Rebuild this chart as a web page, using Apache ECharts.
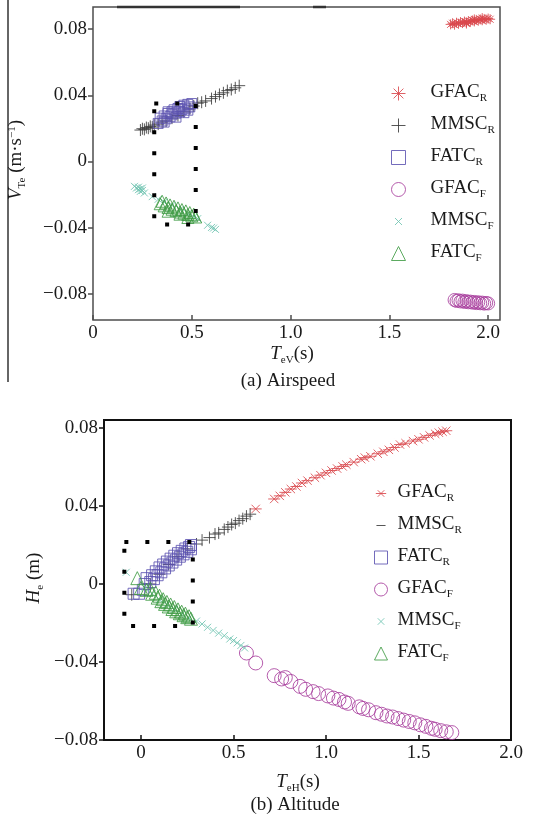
<!DOCTYPE html>
<html>
<head>
<meta charset="utf-8">
<script src="https://cdn.jsdelivr.net/npm/echarts@6/dist/echarts.min.js"></script>
<style>
  html, body { margin: 0; padding: 0; background: #fff; }
  #chart { width: 535px; height: 822px; }
</style>
</head>
<body>
<div id="chart"></div>
<script>
// ---- Series names ----
const seriesNames = ['GFAC_R', 'MMSC_R', 'FATC_R', 'GFAC_F', 'MMSC_F', 'FATC_F'];

// ---- Tick values ----
const xTicks = [0, 0.5, 1.0, 1.5, 2.0];
const yTicks = [-0.08, -0.04, 0, 0.04, 0.08];

// ---- (a) Airspeed: [T_eV (s), V_Te (m/s)] ----
const airGfacR = [[1.81,0.0828],[1.82,0.0835],[1.83,0.0826],[1.84,0.0838],[1.85,0.0832],[1.86,0.0842],[1.87,0.0836],[1.88,0.0845],[1.89,0.0840],[1.90,0.0848],[1.91,0.0843],[1.92,0.0852],[1.93,0.0846],[1.94,0.0855],[1.95,0.0850],[1.96,0.0858],[1.97,0.0853],[1.98,0.0861],[1.99,0.0856],[2.00,0.0863],[2.01,0.0859],[1.93,0.0858],[1.97,0.0866],[1.89,0.0833]];
const airMmscR = [[0.24,0.0190],[0.25,0.0198],[0.26,0.0194],[0.27,0.0205],[0.28,0.0201],[0.29,0.0212],[0.30,0.0208],[0.31,0.0220],[0.33,0.0226],[0.35,0.0238],[0.37,0.0245],[0.40,0.0262],[0.43,0.0278],[0.46,0.0300],[0.49,0.0318],[0.51,0.0335],[0.53,0.0352],[0.55,0.0358],[0.57,0.0366],[0.60,0.0380],[0.62,0.0392],[0.64,0.0405],[0.66,0.0415],[0.68,0.0428],[0.70,0.0435],[0.72,0.0445],[0.74,0.0458]];
const airFatcR = [[0.33,0.0230],[0.34,0.0262],[0.35,0.0245],[0.36,0.0275],[0.37,0.0258],[0.38,0.0290],[0.39,0.0270],[0.40,0.0300],[0.40,0.0282],[0.41,0.0312],[0.42,0.0292],[0.43,0.0320],[0.44,0.0302],[0.44,0.0332],[0.45,0.0315],[0.46,0.0340],[0.47,0.0322],[0.48,0.0345],[0.49,0.0330],[0.50,0.0350],[0.36,0.0238],[0.42,0.0268],[0.46,0.0295],[0.38,0.0300],[0.48,0.0310]];
const airGfacF = [[1.83,-0.0836],[1.84,-0.0842],[1.85,-0.0838],[1.86,-0.0845],[1.87,-0.0840],[1.88,-0.0848],[1.89,-0.0843],[1.90,-0.0850],[1.91,-0.0846],[1.92,-0.0852],[1.93,-0.0848],[1.94,-0.0855],[1.95,-0.0850],[1.96,-0.0856],[1.97,-0.0852],[1.98,-0.0858],[1.99,-0.0854],[2.00,-0.0857]];
const airMmscF = [[0.21,-0.0150],[0.22,-0.0160],[0.23,-0.0155],[0.23,-0.0170],[0.24,-0.0165],[0.24,-0.0180],[0.25,-0.0175],[0.26,-0.0190],[0.25,-0.0160],[0.30,-0.0212],[0.33,-0.0228],[0.36,-0.0245],[0.40,-0.0265],[0.44,-0.0290],[0.48,-0.0315],[0.51,-0.0335],[0.53,-0.0345],[0.58,-0.0385],[0.60,-0.0398],[0.62,-0.0410],[0.61,-0.0402]];
const airFatcF = [[0.34,-0.0255],[0.35,-0.0240],[0.36,-0.0268],[0.37,-0.0250],[0.38,-0.0278],[0.39,-0.0262],[0.40,-0.0288],[0.41,-0.0270],[0.42,-0.0295],[0.43,-0.0280],[0.44,-0.0305],[0.45,-0.0290],[0.46,-0.0312],[0.47,-0.0298],[0.48,-0.0320],[0.49,-0.0308],[0.50,-0.0328],[0.51,-0.0318],[0.52,-0.0335],[0.38,-0.0300],[0.44,-0.0318],[0.48,-0.0338]];
const airBox = [[0.31,0.035],[0.52,0.035],[0.52,-0.038],[0.31,-0.038],[0.31,0.035]];

// ---- (b) Altitude: [T_eH (s), H_e (m)] ----
const altGfacR = [[0.62,0.0385],[0.72,0.0436],[0.75,0.0452],[0.78,0.0470],[0.81,0.0487],[0.84,0.0500],[0.87,0.0518],[0.90,0.0530],[0.94,0.0545],[0.97,0.0558],[1.00,0.0570],[1.03,0.0582],[1.06,0.0592],[1.09,0.0603],[1.11,0.0612],[1.15,0.0625],[1.19,0.0640],[1.21,0.0648],[1.24,0.0655],[1.28,0.0668],[1.31,0.0678],[1.34,0.0688],[1.37,0.0700],[1.40,0.0715],[1.43,0.0722],[1.47,0.0733],[1.50,0.0742],[1.53,0.0752],[1.56,0.0762],[1.59,0.0770],[1.61,0.0776],[1.63,0.0781],[1.65,0.0786]];
const altMmscR = [[-0.05,-0.0055],[0.05,0.0000],[0.10,0.0050],[0.15,0.0100],[0.20,0.0140],[0.25,0.0180],[0.30,0.0205],[0.33,0.0225],[0.37,0.0238],[0.40,0.0256],[0.42,0.0262],[0.45,0.0280],[0.47,0.0292],[0.49,0.0305],[0.51,0.0312],[0.53,0.0325],[0.55,0.0335],[0.57,0.0348],[0.59,0.0358]];
const altFatcR = [[-0.04,-0.0050],[-0.01,-0.0050],[0.01,-0.0030],[0.02,0.0000],[0.03,0.0030],[0.05,0.0010],[0.06,0.0045],[0.07,0.0025],[0.08,0.0065],[0.09,0.0045],[0.10,0.0085],[0.11,0.0060],[0.12,0.0100],[0.13,0.0080],[0.14,0.0115],[0.15,0.0095],[0.16,0.0130],[0.17,0.0110],[0.18,0.0145],[0.19,0.0125],[0.20,0.0158],[0.21,0.0140],[0.22,0.0170],[0.23,0.0152],[0.24,0.0182],[0.25,0.0165],[0.26,0.0190],[0.27,0.0178],[0.27,0.0200]];
const altGfacF = [[0.57,-0.0354],[0.62,-0.0405],[0.72,-0.0470],[0.76,-0.0487],[0.78,-0.0480],[0.81,-0.0500],[0.86,-0.0525],[0.89,-0.0540],[0.93,-0.0552],[0.96,-0.0562],[1.01,-0.0574],[1.04,-0.0585],[1.07,-0.0592],[1.10,-0.0605],[1.12,-0.0612],[1.18,-0.0630],[1.20,-0.0638],[1.23,-0.0645],[1.27,-0.0660],[1.30,-0.0668],[1.33,-0.0677],[1.36,-0.0682],[1.39,-0.0690],[1.42,-0.0698],[1.45,-0.0705],[1.48,-0.0712],[1.51,-0.0722],[1.54,-0.0730],[1.57,-0.0740],[1.59,-0.0745],[1.62,-0.0752],[1.65,-0.0758],[1.68,-0.0762]];
const altMmscF = [[-0.08,0.0060],[0.02,-0.0020],[0.06,-0.0050],[0.10,-0.0080],[0.14,-0.0105],[0.18,-0.0130],[0.22,-0.0155],[0.26,-0.0175],[0.30,-0.0190],[0.33,-0.0205],[0.36,-0.0222],[0.39,-0.0238],[0.42,-0.0252],[0.45,-0.0265],[0.48,-0.0282],[0.50,-0.0290],[0.52,-0.0302],[0.54,-0.0315],[0.56,-0.0328]];
const altFatcF = [[-0.02,0.0030],[0.00,-0.0020],[0.03,-0.0030],[0.05,-0.0025],[0.06,-0.0050],[0.08,-0.0045],[0.09,-0.0070],[0.10,-0.0060],[0.11,-0.0088],[0.12,-0.0078],[0.13,-0.0102],[0.14,-0.0092],[0.15,-0.0115],[0.16,-0.0105],[0.17,-0.0128],[0.18,-0.0118],[0.19,-0.0140],[0.20,-0.0130],[0.21,-0.0150],[0.22,-0.0142],[0.23,-0.0160],[0.24,-0.0152],[0.25,-0.0170],[0.26,-0.0165],[0.27,-0.0178]];
const altBox = [[-0.09,0.0215],[0.28,0.0215],[0.28,-0.0215],[-0.09,-0.0215],[-0.09,0.0215]];

// ---- Styling ----
const FONT = '"Liberation Serif", "Times New Roman", serif';
const INK = '#1a1a1a';
const colors = {
  GFAC_R: '#d9474b', MMSC_R: '#3a3a3a', FATC_R: '#5c52b0',
  GFAC_F: '#a8409e', MMSC_F: '#6fc3b0', FATC_F: '#3f9b44'
};
// marker shapes (stroked paths); tiny corner segments pin the 10x10 box
const PIN = 'M0,0L0.01,0.01M10,10L9.99,9.99';
const STAR8 = 'path://M5,0L5,10M0,5L10,5M1.5,1.5L8.5,8.5M1.5,8.5L8.5,1.5';
const STAR6 = 'path://' + PIN + 'M0,5L10,5M1.5,1.5L8.5,8.5M1.5,8.5L8.5,1.5';
const PLUS = 'path://M5,0L5,10M0,5L10,5';
const CROSS = 'path://M0,0L10,10M0,10L10,0';
// legend-only icons (drawn smaller inside the icon box)
const CROSS_S = 'path://' + PIN + 'M2.5,2.5L7.5,7.5M2.5,7.5L7.5,2.5';
const STAR6_S = 'path://' + PIN + 'M1,5L9,5M2.5,2.5L7.5,7.5M2.5,7.5L7.5,2.5';
const DASH = 'path://' + PIN + 'M1.5,5L8.5,5';

function fmt(d) {
  return function (v) {
    if (Math.abs(v) < 1e-9) return '0';
    return (v < 0 ? '\u2212' : '') + Math.abs(v).toFixed(d);
  };
}

function scatter(name, data, idx, symbol, size) {
  return {
    type: 'scatter', name: name, data: data,
    xAxisIndex: idx, yAxisIndex: idx,
    symbol: symbol, symbolSize: size,
    itemStyle: { color: 'rgba(0,0,0,0)', borderColor: colors[name], borderWidth: 1, opacity: 0.85 },
    emphasis: { disabled: true }, silent: true, z: 3
  };
}

function dottedBox(data, idx) {
  return {
    type: 'line', data: data, xAxisIndex: idx, yAxisIndex: idx,
    symbol: 'none', silent: true, z: 5,
    lineStyle: { color: '#000', width: 4, type: [4, 17], cap: 'butt' }
  };
}

function xAxis(idx, min, max, color) {
  return {
    type: 'value', gridIndex: idx, min: min, max: max,
    splitLine: { show: false }, axisLine: { show: false, onZero: false },
    axisTick: { show: true, inside: true, length: 5, customValues: xTicks, lineStyle: { color: color, width: 1.5 } },
    axisLabel: { customValues: xTicks, formatter: fmt(1), fontFamily: FONT, fontSize: 19, color: INK, margin: 4 }
  };
}

function yAxis(idx, min, max, color) {
  return {
    type: 'value', gridIndex: idx, min: min, max: max,
    splitLine: { show: false }, axisLine: { show: false, onZero: false },
    axisTick: { show: true, inside: false, length: 5, customValues: yTicks, lineStyle: { color: color, width: 1.5 } },
    axisLabel: { customValues: yTicks, formatter: fmt(2), fontFamily: FONT, fontSize: 19, color: INK, margin: 6 }
  };
}

function legendRich(padLeft) {
  return {
    m: { fontFamily: FONT, fontSize: 19, color: INK, verticalAlign: 'top', padding: [0, 0, 0, padLeft] },
    s: { fontFamily: FONT, fontSize: 11, color: INK, verticalAlign: 'top', padding: [10, 0, 0, 0] }
  };
}

function legendFormatter(name) {
  const parts = name.split('_');
  return '{m|' + parts[0] + '}{s|' + parts[1] + '}';
}

const titleRich = {
  i: { fontFamily: FONT, fontSize: 19, fontStyle: 'italic', color: INK, verticalAlign: 'top' },
  n: { fontFamily: FONT, fontSize: 19, color: INK, verticalAlign: 'top' },
  b: { fontFamily: FONT, fontSize: 11, color: INK, verticalAlign: 'top', padding: [10, 0, 0, 0] },
  p: { fontFamily: FONT, fontSize: 11, color: INK, verticalAlign: 'top' }
};

function label(text, x, y, rotation) {
  return {
    type: 'text', x: x, y: y, rotation: rotation || 0, silent: true,
    style: { text: text, rich: titleRich, font: '19px ' + FONT, fill: INK,
      align: 'center', verticalAlign: 'middle', textAlign: 'center', textVerticalAlign: 'middle' }
  };
}

const chart = echarts.init(document.getElementById('chart'), null, { renderer: 'canvas' });

chart.setOption({
  animation: false,
  backgroundColor: '#fff',
  grid: [
    { left: 93, top: 7, width: 407, height: 313, show: true, borderColor: '#4d4d4d', borderWidth: 1.5, backgroundColor: 'transparent' },
    { left: 104, top: 420, width: 407, height: 320, show: true, borderColor: '#111', borderWidth: 2, backgroundColor: 'transparent' }
  ],
  xAxis: [xAxis(0, 0, 2.06, '#4d4d4d'), xAxis(1, -0.2, 2.0, '#111')],
  yAxis: [yAxis(0, -0.0957, 0.0933, '#4d4d4d'), yAxis(1, -0.08, 0.0841, '#111')],
  legend: [
    {
      orient: 'vertical', left: 391, top: 83, padding: 0, itemWidth: 14, itemHeight: 14, itemGap: 11,
      selectedMode: false, formatter: legendFormatter,
      itemStyle: { borderWidth: 1 },
      textStyle: { rich: legendRich(20) },
      data: [
        { name: 'GFAC_R', icon: STAR8 }, { name: 'MMSC_R', icon: PLUS }, { name: 'FATC_R', icon: 'rect' },
        { name: 'GFAC_F', icon: 'circle' }, { name: 'MMSC_F', icon: CROSS_S }, { name: 'FATC_F', icon: 'triangle' }
      ]
    },
    {
      orient: 'vertical', left: 374, top: 483, padding: 0, itemWidth: 13, itemHeight: 13, itemGap: 11,
      selectedMode: false, formatter: legendFormatter,
      itemStyle: { borderWidth: 1 },
      textStyle: { rich: legendRich(5) },
      data: [
        { name: 'GFAC_R', icon: STAR6_S }, { name: 'MMSC_R', icon: DASH }, { name: 'FATC_R', icon: 'rect' },
        { name: 'GFAC_F', icon: 'circle' }, { name: 'MMSC_F', icon: CROSS_S }, { name: 'FATC_F', icon: 'triangle' }
      ]
    }
  ],
  series: [
    scatter('GFAC_R', airGfacR, 0, STAR8, 10),
    scatter('MMSC_R', airMmscR, 0, PLUS, 12),
    scatter('FATC_R', airFatcR, 0, 'rect', 10),
    scatter('GFAC_F', airGfacF, 0, 'circle', 13),
    scatter('MMSC_F', airMmscF, 0, CROSS, 7),
    scatter('FATC_F', airFatcF, 0, 'triangle', 12),
    dottedBox(airBox, 0),
    scatter('GFAC_R', altGfacR, 1, STAR6, 12),
    scatter('MMSC_R', altMmscR, 1, PLUS, 12),
    scatter('FATC_R', altFatcR, 1, 'rect', 11),
    scatter('GFAC_F', altGfacF, 1, 'circle', 14),
    scatter('MMSC_F', altMmscF, 1, CROSS, 7),
    scatter('FATC_F', altFatcF, 1, 'triangle', 13),
    dottedBox(altBox, 1)
  ],
  graphic: [
    { type: 'line', silent: true, shape: { x1: 8, y1: 0, x2: 8, y2: 382 }, style: { stroke: '#333', lineWidth: 1.5 } },
    { type: 'line', silent: true, shape: { x1: 117, y1: 7, x2: 240, y2: 7 }, style: { stroke: '#333', lineWidth: 2.5 } },
    { type: 'line', silent: true, shape: { x1: 313, y1: 7, x2: 326, y2: 7 }, style: { stroke: '#333', lineWidth: 2.5 } },
    label('{i|V}{b|Te}{n| (m\u00b7s}{p|\u22121}{n|)}', 17, 160, Math.PI / 2),
    label('{i|T}{b|eV}{n|(s)}', 292, 355),
    label('{n|(a) Airspeed}', 288, 381),
    label('{i|H}{b|e}{n| (m)}', 35, 578, Math.PI / 2),
    label('{i|T}{b|eH}{n|(s)}', 298, 783),
    label('{n|(b) Altitude}', 295, 805)
  ]
});
</script>
</body>
</html>
